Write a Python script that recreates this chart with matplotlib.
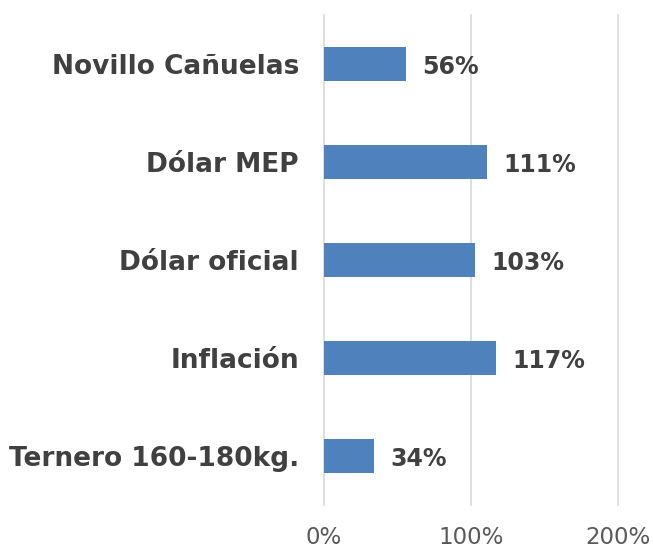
import matplotlib
matplotlib.use("Agg")
import matplotlib.pyplot as plt
from matplotlib.ticker import FuncFormatter

categories = ["Ternero 160-180kg.", "Inflación", "Dólar oficial", "Dólar MEP", "Novillo Cañuelas"]
values = [34, 117, 103, 111, 56]
xticks = [0, 100, 200]

plt.rcParams['font.family'] = ['DejaVu Sans']

fig = plt.figure(figsize=(6.53, 5.52), dpi=100)
ax = fig.add_axes([0.496, 0.085, 0.450, 0.888])

bar_color = "#4F81BD"
text_color = "#404040"

y = list(range(len(categories)))
ax.barh(y, values, height=0.35, color=bar_color, zorder=3)
for yi, v in zip(y, values):
    ax.text(v + 11, yi - 0.03, f"{v}%", va="center", ha="left",
            fontsize=17, fontweight="bold", color=text_color)

ax.set_xlim(0, 200)
ax.set_ylim(-0.5, len(categories) - 0.5)
ax.set_xticks(xticks)
ax.xaxis.set_major_formatter(FuncFormatter(lambda v, p: f"{int(v)}%"))
ax.set_yticks(y)
ax.set_yticklabels(categories, fontsize=19, fontweight="bold", color=text_color)
ax.tick_params(axis="x", labelsize=16.5, colors="#595959", length=0, pad=15)
ax.tick_params(axis="y", length=0, pad=18)
ax.grid(axis="x", color="#D9D9D9", linewidth=1.2, zorder=0)
for gl in ax.get_xgridlines():
    gl.set_clip_on(False)
for s in ax.spines.values():
    s.set_visible(False)

fig.savefig("out.png", dpi=100)
